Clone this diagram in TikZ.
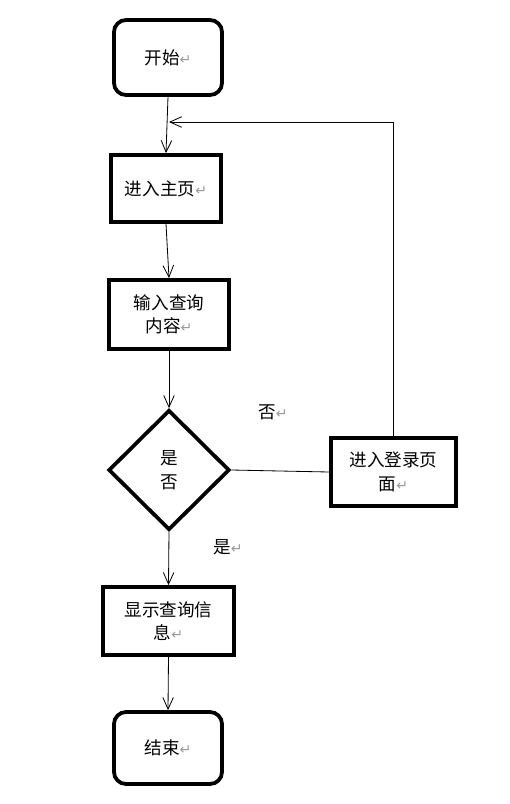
\documentclass[tikz,border=0pt]{standalone}
\usepackage{fontspec}
\usepackage{xcolor}
\usepackage{tikz}
\usetikzlibrary{arrows.meta,shapes.geometric}
\setmainfont{Noto Sans CJK SC}
\newfontfamily\symfont{DejaVu Sans}
\newcommand{\retmark}{{\symfont\fontsize{12}{12}\selectfont\color{gray!80}↵}}

\begin{document}
\begin{tikzpicture}[x=0.03cm,y=-0.03cm,>={Straight Barb[length=10pt,width=9pt]},
  every node/.style={font=\fontsize{15}{20}\selectfont,align=center},
  box/.style={draw,line width=3.2pt,inner sep=0pt},
  endbox/.style={box,rounded corners=0.36cm},
  flow/.style={draw,line width=0.7pt}]
  \useasboundingbox (0,0) rectangle (510,804);
  % start / end
  \node[endbox,minimum width=3.24cm,minimum height=2.25cm] (start) at (168,57.5) {开始\retmark};
  \node[endbox,minimum width=3.24cm,minimum height=2.16cm] (stop) at (168,748) {结束\retmark};
  % process boxes
  \node[box,minimum width=3.3cm,minimum height=2.01cm] (home) at (166,188.5) {进入主页\retmark};
  \node[box,minimum width=3.6cm,minimum height=2.07cm] (query) at (169,314.5) {输入查询\\内容\retmark};
  \node[box,diamond,aspect=1,minimum width=3.63cm,minimum height=3.6cm] (check) at (169,470) {是\\否};
  \node[box,minimum width=3.75cm,minimum height=2.04cm] (login) at (393.5,472) {进入登录页\\面\retmark};
  \node[box,minimum width=3.93cm,minimum height=2.04cm] (show) at (168.5,621) {显示查询信\\息\retmark};
  % branch labels
  \node (no) at (273,412) {否\retmark};
  \node (yes) at (228,547) {是\retmark};
  \coordinate (join) at (169,122);
  \draw[flow,->] (start.south) -- (home.north);
  \draw[flow,->] (home.south) -- (query.north);
  \draw[flow,->] (query.south) -- (check.north);
  \draw[flow,->] (check.south) -- (show.north);
  \draw[flow,->] (show.south) -- (stop.north);
  \draw[flow] (check.east) -- (login.west);
  \draw[flow,->] (login.north) |- (join);
\end{tikzpicture}
\end{document}
